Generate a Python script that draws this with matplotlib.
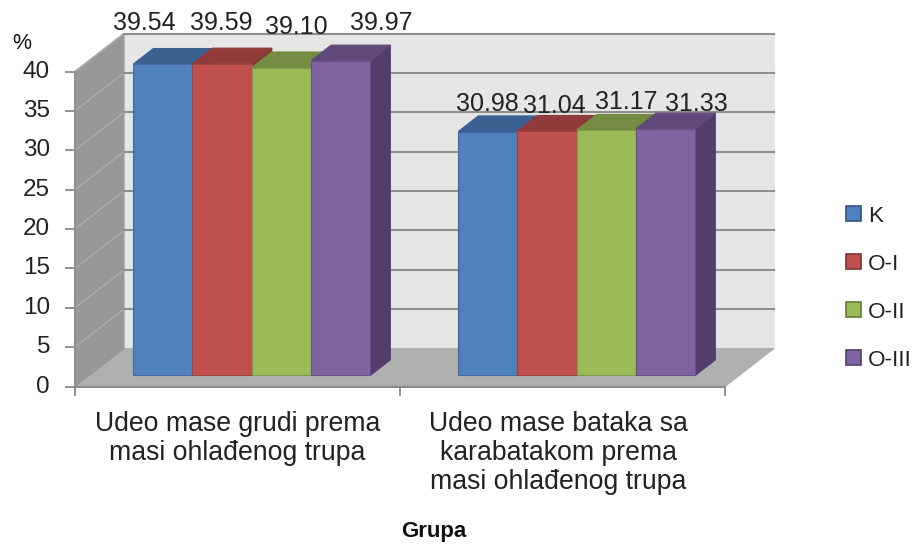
import matplotlib
matplotlib.use('Agg')
import matplotlib.pyplot as plt
from matplotlib.patches import Patch, Polygon

plt.rcParams['font.family'] = ['Liberation Sans', 'DejaVu Sans']

categories = ['Udeo mase grudi prema\nmasi ohlađenog trupa',
              'Udeo mase bataka sa\nkarabatakom prema\nmasi ohlađenog trupa']
series = ['K', 'O-I', 'O-II', 'O-III']
values = [[39.54, 30.98], [39.59, 31.04], [39.10, 31.17], [39.97, 31.33]]
labels = [['39.54', '30.98'], ['39.59', '31.04'], ['39.10', '31.17'], ['39.97', '31.33']]
y_ticks = [0, 5, 10, 15, 20, 25, 30, 35, 40]

front = ['#4F81BD', '#C0504D', '#9BBB59', '#8064A2']
top = ['#3B6192', '#903B39', '#748D42', '#604A7B']
side = ['#345580', '#7E3432', '#657B3A', '#533E6B']
edge = ['#41699B', '#9E4240', '#80994A', '#694F87']

# 1 category = 325 px, 1 % = 7.875 px
PX_X = 325.0
PX_Y = 7.875
DX = 49 / PX_X   # full depth of the box
DY = 38 / PX_Y

fig = plt.figure(figsize=(9.16, 5.44), dpi=100)
ax = fig.add_axes([0, 0, 1, 1])
ax.set_xlim(-75 / PX_X, (916 - 75) / PX_X)
ax.set_ylim(-(544 - 386.5) / PX_Y, 386.5 / PX_Y)
ax.axis('off')


def pt(x, v, d):
    return (x + DX * d, v + DY * d)


def face(a, color, edgec=None, z=1, lw=0.8):
    ax.add_patch(Polygon(a, closed=True, facecolor=color, edgecolor=edgec or color,
                         linewidth=lw, zorder=z))


n_cat = len(categories)
vmax = y_ticks[-1]
# walls and floor
face([pt(0, 0, 1), pt(n_cat, 0, 1), pt(n_cat, vmax, 1), pt(0, vmax, 1)], '#E6E6E6', z=1)
face([pt(0, 0, 0), pt(n_cat, 0, 0), pt(n_cat, 0, 1), pt(0, 0, 1)], '#B0B0B0', z=1)
face([pt(0, 0, 0), pt(0, 0, 1), pt(0, vmax, 1), pt(0, vmax, 0)], '#989898', z=1)

# gridlines
for t in y_ticks[1:]:
    a, b, c = pt(0, t, 0), pt(0, t, 1), pt(n_cat, t, 1)
    ax.plot([a[0], b[0]], [a[1], b[1]], color='#ABABAB', lw=1.1, zorder=2)
    ax.plot([b[0], c[0]], [b[1], c[1]], color='#8E8E8E', lw=1.5, zorder=2)

# axis lines and ticks
ax.plot([0, n_cat], [0, 0], color='#8A8A8A', lw=1.5, zorder=2)
ax.plot([0, 0], [0, vmax], color='#8A8A8A', lw=1.2, zorder=2)
for t in y_ticks:
    ax.plot([-9 / PX_X, 0], [t, t], color='#8A8A8A', lw=1.3, zorder=2)
    ax.text(-25 / PX_X, t, str(t), ha='right', va='center', fontsize=17.5, color='#222222')
for i in range(n_cat + 1):
    ax.plot([i, i], [0, -8 / PX_Y], color='#8A8A8A', lw=1.3, zorder=2)

# bars
bar_w = 59.25 / PX_X
d0, d1 = 0.29, 0.70
group_start = (1 - bar_w * len(series)) / 2
for j in range(n_cat):
    for s in range(len(series)):
        x0 = j + group_start + s * bar_w
        x1 = x0 + bar_w
        v = values[s][j]
        z = 3 + s
        face([pt(x1, 0, d0), pt(x1, 0, d1), pt(x1, v, d1), pt(x1, v, d0)], side[s], z=z)
        face([pt(x0, v, d0), pt(x1, v, d0), pt(x1, v, d1), pt(x0, v, d1)], top[s], z=z)
        face([pt(x0, 0, d0), pt(x1, 0, d0), pt(x1, v, d0), pt(x0, v, d0)], front[s],
             edgec=edge[s], z=z)

# data labels, moved by hand like in the original
offsets = [[(-19, 41), (0, 28)], [(-1, 41), (7, 25)], [(15, 41), (20, 28)], [(41, 38), (31, 25)]]
for j in range(n_cat):
    for s in range(len(series)):
        x = j + group_start + (s + 0.5) * bar_w
        ax.annotate(labels[s][j], xy=pt(x, values[s][j], d0), xytext=offsets[s][j],
                    textcoords='offset pixels', ha='center', va='center',
                    fontsize=18, color='#222222', zorder=10)

# category labels
cat_shift = [0, -4]
for j, c in enumerate(categories):
    ax.text(j + 0.5 + cat_shift[j] / PX_X, -(411 - 386.5) / PX_Y, c, ha='center', va='top',
            fontsize=19.2, color='#222222', linespacing=1.14)

ax.text(-63 / PX_X, (386.5 - 43) / PX_Y, '%', ha='left', va='center', fontsize=15.5, color='#111111')
ax.text(359 / PX_X, (386.5 - 531) / PX_Y, 'Grupa', ha='center', va='center', fontsize=16,
        fontweight='bold', color='#111111')

handles = [Patch(facecolor=front[i], edgecolor=side[i], linewidth=1.2) for i in range(len(series))]
ax.legend(handles, series, loc='center left', bbox_to_anchor=(846 / 916, 1 - 288 / 544),
          frameon=False, fontsize=16.2, handlelength=0.67, handleheight=0.67,
          handletextpad=0.3, labelspacing=1.2, borderpad=0, borderaxespad=0,
          labelcolor='#222222')

fig.savefig('out.png', dpi=100)
